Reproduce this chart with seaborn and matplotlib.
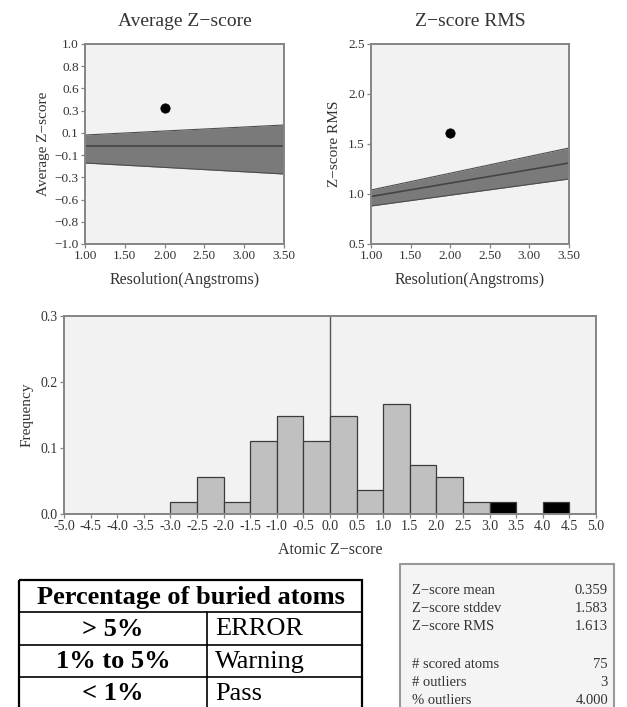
import numpy as np
import pandas as pd
import seaborn as sns
import matplotlib
matplotlib.use("Agg")
import matplotlib.pyplot as plt
from matplotlib.patches import Rectangle

# ---------------- data ----------------
res_x = [1.0, 3.5]
avg_lower = [-0.19, -0.30]
avg_center = [-0.02, -0.02]
avg_upper = [0.09, 0.19]
avg_point_res = [2.0]
avg_point_val = [0.359]

rms_lower = [0.88, 1.15]
rms_center = [0.975, 1.31]
rms_upper = [1.04, 1.46]
rms_point_res = [2.0]
rms_point_val = [1.613]

bin_edges = [-5.0, -4.5, -4.0, -3.5, -3.0, -2.5, -2.0, -1.5, -1.0, -0.5, 0.0,
             0.5, 1.0, 1.5, 2.0, 2.5, 3.0, 3.5, 4.0, 4.5, 5.0]
bin_centers = [-4.75, -4.25, -3.75, -3.25, -2.75, -2.25, -1.75, -1.25, -0.75, -0.25,
               0.25, 0.75, 1.25, 1.75, 2.25, 2.75, 3.25, 3.75, 4.25, 4.75]
freq_normal = [0, 0, 0, 0, 1/54, 3/54, 1/54, 6/54, 8/54, 6/54,
               8/54, 2/54, 9/54, 4/54, 3/54, 1/54, 0, 0, 0, 0]
freq_outlier = [0, 0, 0, 0, 0, 0, 0, 0, 0, 0,
                0, 0, 0, 0, 0, 0, 1/54, 0, 1/54, 0]

avg_yticks = list(np.linspace(-1, 1, 10))
avg_yticklabels = ["\u22121.0", "\u22120.8", "\u22120.6", "\u22120.3", "\u22120.1",
                   "0.1", "0.3", "0.6", "0.8", "1.0"]
res_ticks = [1.0, 1.5, 2.0, 2.5, 3.0, 3.5]
res_ticklabels = ["1.00", "1.50", "2.00", "2.50", "3.00", "3.50"]
rms_ticks = [0.5, 1.0, 1.5, 2.0, 2.5]
rms_ticklabels = ["0.5", "1.0", "1.5", "2.0", "2.5"]
hist_xticks = bin_edges
hist_xticklabels = ["%.1f" % v for v in bin_edges]
hist_yticks = [0.0, 0.1, 0.2, 0.3]
hist_yticklabels = ["0.0", "0.1", "0.2", "0.3"]

table_header = "Percentage of buried atoms"
table_left = ["> 5%", "1% to 5%", "< 1%"]
table_right = ["ERROR", "Warning", "Pass"]

stats_labels = ["Z\u2212score mean", "Z\u2212score stddev", "Z\u2212score RMS", "",
                "# scored atoms", "# outliers", "% outliers"]
stats_values = ["0.359", "1.583", "1.613", "", "75", "3", "4.000"]

# ---------------- style ----------------
sns.set_theme(style="ticks")
plt.rcParams["font.family"] = ["Liberation Serif", "DejaVu Serif"]
plt.rcParams["axes.unicode_minus"] = True

W, H = 627, 707
fig = plt.figure(figsize=(W / 100, H / 100), dpi=100)

def px_axes(x0, y0, x1, y1):
    return fig.add_axes([x0 / W, 1 - y1 / H, (x1 - x0) / W, (y1 - y0) / H])

FACE = "#f2f2f2"
SPINE = "#858585"
TEXTC = "#333333"
BAND = "#7a7a7a"
BANDEDGE = "#4d4d4d"

def style_axes(ax, ls=9.5):
    ax.set_facecolor(FACE)
    for s in ax.spines.values():
        s.set_color(SPINE)
        s.set_linewidth(1.4)
    ax.tick_params(colors=SPINE, labelcolor=TEXTC, length=3, width=0.9, labelsize=ls, pad=1.5)

# ---------- Average Z-score ----------
ax1 = px_axes(85, 44, 284, 244)
style_axes(ax1)
ax1.fill_between(res_x, avg_lower, avg_upper, color=BAND, lw=0)
for yv in (avg_lower, avg_upper):
    sns.lineplot(x=res_x, y=yv, ax=ax1, color=BANDEDGE, lw=0.8)
sns.lineplot(x=res_x, y=avg_center, ax=ax1, color="#444444", lw=1.2)
sns.scatterplot(x=avg_point_res, y=avg_point_val, ax=ax1, color="black", s=45, edgecolor="black", zorder=5)
ax1.set_xlim(1.0, 3.5)
ax1.set_ylim(-1.0, 1.0)
ax1.set_xticks(res_ticks)
ax1.set_xticklabels(res_ticklabels)
ax1.set_yticks(avg_yticks)
ax1.set_yticklabels(avg_yticklabels)
ax1.set_title("Average Z\u2212score", fontsize=14, color=TEXTC, pad=13)
ax1.set_xlabel("Resolution(Angstroms)", fontsize=11.5, color=TEXTC, labelpad=7)
ax1.set_ylabel("Average Z\u2212score", fontsize=11, color=TEXTC, labelpad=3)

# ---------- Z-score RMS ----------
ax2 = px_axes(371, 44, 569, 244)
style_axes(ax2)
ax2.fill_between(res_x, rms_lower, rms_upper, color=BAND, lw=0)
for yv in (rms_lower, rms_upper):
    sns.lineplot(x=res_x, y=yv, ax=ax2, color=BANDEDGE, lw=0.8)
sns.lineplot(x=res_x, y=rms_center, ax=ax2, color="#444444", lw=1.2)
sns.scatterplot(x=rms_point_res, y=rms_point_val, ax=ax2, color="black", s=45, edgecolor="black", zorder=5)
ax2.set_xlim(1.0, 3.5)
ax2.set_ylim(0.5, 2.5)
ax2.set_xticks(res_ticks)
ax2.set_xticklabels(res_ticklabels)
ax2.set_yticks(rms_ticks)
ax2.set_yticklabels(rms_ticklabels)
ax2.set_title("Z\u2212score RMS", fontsize=14, color=TEXTC, pad=13)
ax2.set_xlabel("Resolution(Angstroms)", fontsize=11.5, color=TEXTC, labelpad=7)
ax2.set_ylabel("Z\u2212score RMS", fontsize=11, color=TEXTC, labelpad=5)

# ---------- Histogram ----------
ax3 = px_axes(64, 316, 596, 514)
style_axes(ax3, ls=10)
df = pd.DataFrame({"z": bin_centers, "normal": freq_normal, "outlier": freq_outlier})
sns.histplot(data=df, x="z", weights="normal", bins=bin_edges, ax=ax3,
             color="#c0c0c0", edgecolor="#3c3c3c", linewidth=0.9, alpha=1)
sns.histplot(data=df, x="z", weights="outlier", bins=bin_edges, ax=ax3,
             color="black", edgecolor="#3c3c3c", linewidth=0.9, alpha=1)
ax3.axvline(0, color="#555555", lw=1.0, zorder=0.5)
ax3.set_xlim(-5, 5)
ax3.set_ylim(0, 0.3)
ax3.set_xticks(hist_xticks)
ax3.set_xticklabels(hist_xticklabels)
ax3.set_yticks(hist_yticks)
ax3.set_yticklabels(hist_yticklabels)
ax3.set_xlabel("Atomic Z\u2212score", fontsize=11.5, color=TEXTC, labelpad=6)
ax3.set_ylabel("Frequency", fontsize=11, color=TEXTC, labelpad=5)

# ---------- Table ----------
axt = px_axes(19, 580, 362, 709)
axt.set_xlim(0, 343)
axt.set_ylim(129, 0)
axt.axis("off")
row_h = 129 / 4
col_split = 188
axt.add_patch(Rectangle((0, 0), 343, 129, fill=False, ec="black", lw=1.6, clip_on=False))
axt.plot([0, 343], [row_h, row_h], color="black", lw=1.2)
axt.plot([0, 343], [2 * row_h, 2 * row_h], color="black", lw=1.2)
axt.plot([0, 343], [3 * row_h, 3 * row_h], color="black", lw=1.2)
axt.plot([col_split, col_split], [row_h, 129], color="black", lw=1.2)
axt.text(343 / 2, row_h / 2 + 1, table_header, ha="center", va="center",
         fontsize=19, fontweight="bold", color="black")
for i, (l, r) in enumerate(zip(table_left, table_right)):
    yc = (i + 1.5) * row_h + 1
    axt.text(col_split / 2, yc, l, ha="center", va="center", fontsize=19,
             fontweight="bold", color="black")
    axt.text(col_split + 8, yc, r, ha="left", va="center", fontsize=19, color="black")

# ---------- Stats box ----------
axs = px_axes(400, 564, 614, 720)
axs.set_xlim(0, 214)
axs.set_ylim(156, 0)
axs.axis("off")
axs.add_patch(Rectangle((0, 0), 214, 156, fc="#f4f4f4", ec="#999999", lw=1.5, clip_on=False))
line_y = [27, 45, 63, 81, 100, 118, 136]
for yv, lab, val in zip(line_y, stats_labels, stats_values):
    axs.text(12, yv, lab, ha="left", va="center", fontsize=10.5, color=TEXTC)
    axs.text(208, yv, val, ha="right", va="center", fontsize=10.5, color=TEXTC)

fig.savefig("out.png", dpi=100, facecolor="white")
